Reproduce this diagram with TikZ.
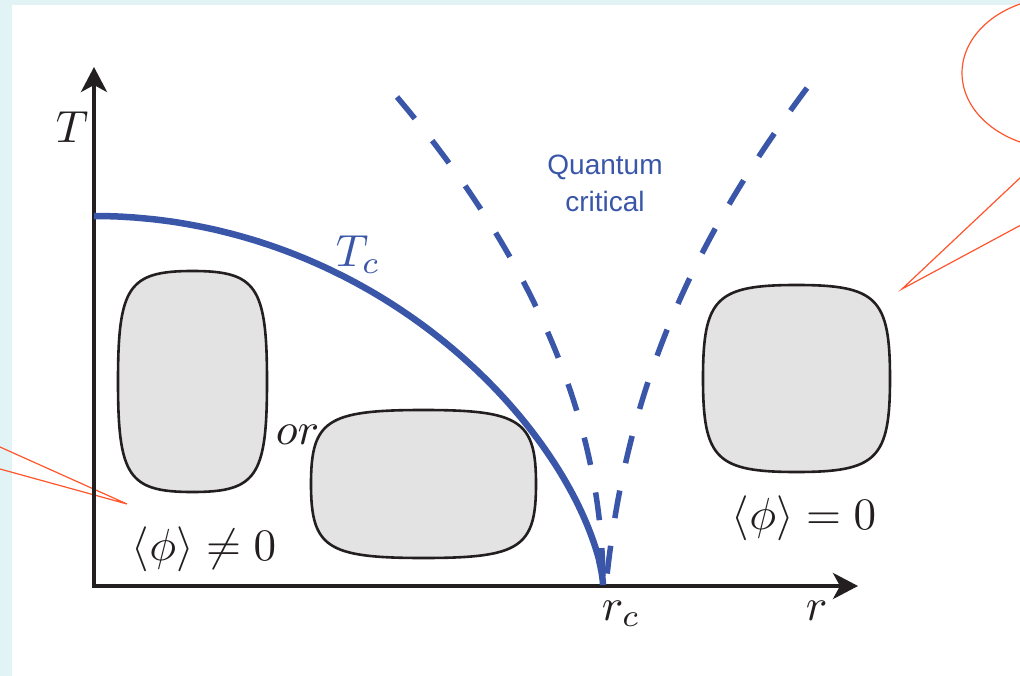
\documentclass[tikz,border=0pt]{standalone}
\usepackage{fontspec}
\newfontfamily\qcfont{Liberation Sans}
\usetikzlibrary{arrows.meta}
\definecolor{bgcyan}{RGB}{226,243,245}
\definecolor{curveblue}{RGB}{58,86,168}
\definecolor{inkblack}{RGB}{35,31,32}
\definecolor{blobgray}{RGB}{227,227,227}
\definecolor{calloutred}{RGB}{255,85,45}
\tikzset{
  axisline/.style={line width=4pt, draw=inkblack, line join=miter,
    {Stealth[length=25pt,width=26pt,inset=7pt]}-{Stealth[length=25pt,width=26pt,inset=7pt]}},
  tcline/.style={line width=6.5pt, draw=curveblue},
  qcline/.style={line width=5.5pt, draw=curveblue, dash pattern=on 28pt off 28pt},
  blob/.style={draw=inkblack, fill=blobgray, line width=2.6pt},
  callout/.style={draw=calloutred, line width=1.2pt},
  mathlabel/.style={text=inkblack, inner sep=0pt, font=\normalsize, scale=4.5},
  qclabel/.style={text=curveblue, font=\qcfont\fontsize{28}{37}\selectfont, align=center, inner sep=0pt},
}
\newcommand{\blobshape}[4]{%
  \path[blob] ({#1+#3},{#2})
    .. controls ({#1+#3},{#2-0.86*#4}) and ({#1+0.86*#3},{#2-#4}) .. ({#1},{#2-#4})
    .. controls ({#1-0.86*#3},{#2-#4}) and ({#1-#3},{#2-0.86*#4}) .. ({#1-#3},{#2})
    .. controls ({#1-#3},{#2+0.86*#4}) and ({#1-0.86*#3},{#2+#4}) .. ({#1},{#2+#4})
    .. controls ({#1+0.86*#3},{#2+#4}) and ({#1+#3},{#2+0.86*#4}) .. cycle;}
\begin{document}
\begin{tikzpicture}[x=1pt,y=-1pt]
\useasboundingbox (0,0) rectangle (1020,676);
\fill[bgcyan] (0,0) rectangle (1020,676);
\fill[white] (12,5) rectangle (1020,676);
% callouts
\begin{scope}
  \clip (0,0) rectangle (1020,676);
  \coordinate (tipL) at (127,504);
  \coordinate (edgeL1) at (0,447);
  \coordinate (edgeL2) at (0,469);
  \draw[callout] (edgeL1) -- (tipL) -- (edgeL2);
  \coordinate (tipR) at (902,289);
  \coordinate (edgeR1) at (1021,177);
  \coordinate (edgeR2) at (1021,225);
  \draw[callout] (edgeR1) -- (tipR) -- (edgeR2);
  \coordinate (balloon) at (1062,73);
  \draw[callout] (balloon) ellipse [x radius=100, y radius=76];
\end{scope}
% axes
\coordinate (Ttip) at (94,67);
\coordinate (origin) at (94,586);
\coordinate (rtip) at (858,586);
\draw[axisline] (Ttip) -- (origin) -- (rtip);
% blobs
\blobshape{192.5}{381.5}{74.5}{110.5}
\blobshape{423.5}{484}{112.5}{74}
\blobshape{796.5}{378.5}{93.5}{93.5}
% curves
\coordinate (rc) at (603,585);
\coordinate (rcR) at (606,585);
\coordinate (qcLtop) at (397,97);
\coordinate (qcRtop) at (807,88);
\draw[tcline] plot[domain=0:89.5, samples=120, variable=\t]
  ({94+509*sin(\t)}, {585-369*pow(cos(\t),1.3)}) -- (rc);
\draw[qcline] (qcLtop) .. controls (534.3,259.7) and (603,422.3) .. (rc);
\draw[qcline] (qcRtop) .. controls (695,238) and (626,385) .. (rcR);
% labels
\node[mathlabel, anchor=base west] (Tlab) at (55,143) {$T$};
\node[mathlabel, anchor=base west] (rlab) at (805,620) {$r$};
\node[mathlabel, anchor=base west] (rclab) at (601,620) {$r_c$};
\node[mathlabel, text=curveblue, anchor=base west] (tclab) at (335,267) {$T_c$};
\node[mathlabel, anchor=base west] (orlab) at (275,444) {$or$};
\node[mathlabel, anchor=base west] (ordlab) at (131,560) {$\langle\phi\rangle\neq 0$};
\node[mathlabel, anchor=base west] (dislab) at (731,529) {$\langle\phi\rangle = 0$};
\node[qclabel, anchor=north] (qclab) at (605,155) {Quantum\\critical};
\end{tikzpicture}
\end{document}
